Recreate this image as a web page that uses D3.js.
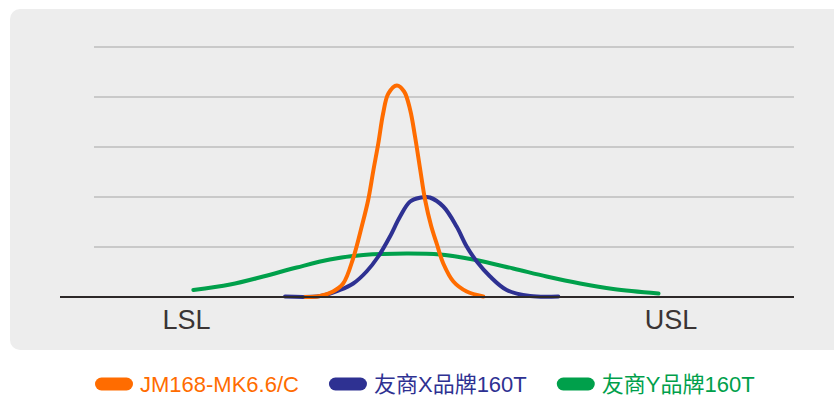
<!DOCTYPE html>
<html>
<head>
<meta charset="utf-8">
<script src="https://cdn.jsdelivr.net/npm/d3@7"></script>
<style>
  html, body { margin: 0; padding: 0; background: #ffffff; }
  svg { display: block; }
</style>
</head>
<body>
<svg id="chart" width="834" height="399"></svg>
<script>
// Series names and colours
const seriesNames = ["JM168-MK6.6/C", "友商X品牌160T", "友商Y品牌160T"];
const seriesColors = ["#ff6c00", "#2e3192", "#00a04b"];

// Spec limits (in sigma units)
const specLabels = ["LSL", "USL"];
const specValues = [-6, 6];

// Horizontal grid levels
const gridLevels = [1, 2, 3, 4, 5];

// Distribution curves: x (sigma units) and relative density
const jmX = [-3.06, -2.69, -2.37, -2.12, -1.87, -1.66, -1.50, -1.37, -1.25, -1.13, -1.00, -0.79, -0.61, -0.46, -0.34, -0.21, -0.09, 0.06, 0.20, 0.36, 0.61, 0.94, 1.35];
const jmY = [0.00, 0.02, 0.11, 0.27, 0.78, 1.41, 1.94, 2.54, 3.07, 3.67, 4.07, 4.23, 4.11, 3.74, 3.21, 2.54, 1.94, 1.42, 1.06, 0.67, 0.31, 0.11, 0.01];

const brandXX = [-3.56, -2.69, -2.20, -1.87, -1.54, -1.25, -0.96, -0.71, -0.46, -0.19, -0.08, 0.03, 0.36, 0.69, 0.94, 1.19, 1.52, 1.93, 2.51, 3.21];
const brandXY = [0.01, 0.02, 0.14, 0.27, 0.51, 0.81, 1.21, 1.61, 1.91, 1.99, 2.00, 1.99, 1.81, 1.41, 1.01, 0.71, 0.41, 0.14, 0.02, 0.01];

const brandYX = [-5.83, -4.92, -4.10, -3.27, -2.45, -1.62, -0.55, 0.28, 1.10, 2.09, 2.92, 3.75, 4.57, 5.69];
const brandYY = [0.14, 0.25, 0.41, 0.59, 0.75, 0.84, 0.87, 0.85, 0.75, 0.57, 0.41, 0.27, 0.16, 0.07];

const svg = d3.select("#chart");

// Layout
const panel = { x: 10, y: 9, w: 840, h: 341, r: 10 };
const axisLeft = 60, gridLeft = 94, plotRight = 794;
const baseY = 297, topY = 47;

// Scales
const x = d3.scaleLinear().domain(specValues).range([186.5, 671]);
const y = d3.scaleLinear().domain([0, 5]).range([baseY, topY]);

// Grey panel
svg.append("rect")
  .attr("x", panel.x).attr("y", panel.y)
  .attr("width", panel.w).attr("height", panel.h)
  .attr("rx", panel.r).attr("ry", panel.r)
  .attr("fill", "#ededed");

// Grid lines
svg.append("g").selectAll("line").data(gridLevels).join("line")
  .attr("x1", gridLeft).attr("x2", plotRight)
  .attr("y1", d => y(d)).attr("y2", d => y(d))
  .attr("stroke", "#c9c9c9").attr("stroke-width", 2);

// Curves
const curves = [
  { xs: jmX, ys: jmY },
  { xs: brandXX, ys: brandXY },
  { xs: brandYX, ys: brandYY }
];
const line = d3.line()
  .x(d => x(d[0])).y(d => y(d[1]))
  .curve(d3.curveCatmullRom.alpha(0.5));

// Draw green first, then blue, then orange on top
const order = [2, 1, 0];
svg.append("g").selectAll("path").data(order).join("path")
  .attr("d", i => line(d3.zip(curves[i].xs, curves[i].ys)))
  .attr("fill", "none")
  .attr("stroke", i => seriesColors[i])
  .attr("stroke-width", 4)
  .attr("stroke-linecap", "round")
  .attr("stroke-linejoin", "round");

// Baseline (drawn over the curve tails)
svg.append("line")
  .attr("x1", axisLeft).attr("x2", plotRight)
  .attr("y1", baseY).attr("y2", baseY)
  .attr("stroke", "#2d2828").attr("stroke-width", 2);

// Spec limit labels
svg.append("g").selectAll("text").data(specLabels).join("text")
  .attr("x", (d, i) => x(specValues[i]))
  .attr("y", 329)
  .attr("text-anchor", "middle")
  .attr("font-family", "Liberation Sans, Arial, sans-serif")
  .attr("font-size", 27)
  .attr("fill", "#3a3434")
  .text(d => d);

// Legend
const legend = svg.append("g");
let lx = 95;
const ly = 384;
seriesNames.forEach((name, i) => {
  legend.append("rect")
    .attr("x", lx).attr("y", ly - 6.5)
    .attr("width", 38).attr("height", 13)
    .attr("rx", 6.5).attr("ry", 6.5)
    .attr("fill", seriesColors[i]);
  const t = legend.append("text")
    .attr("x", lx + 45).attr("y", ly + 8)
    .attr("font-family", "Liberation Sans, Arial, 'Noto Sans CJK SC', sans-serif")
    .attr("font-size", 22)
    .attr("fill", seriesColors[i])
    .text(name);
  lx += 45 + t.node().getComputedTextLength() + 30;
});
</script>
</body>
</html>
